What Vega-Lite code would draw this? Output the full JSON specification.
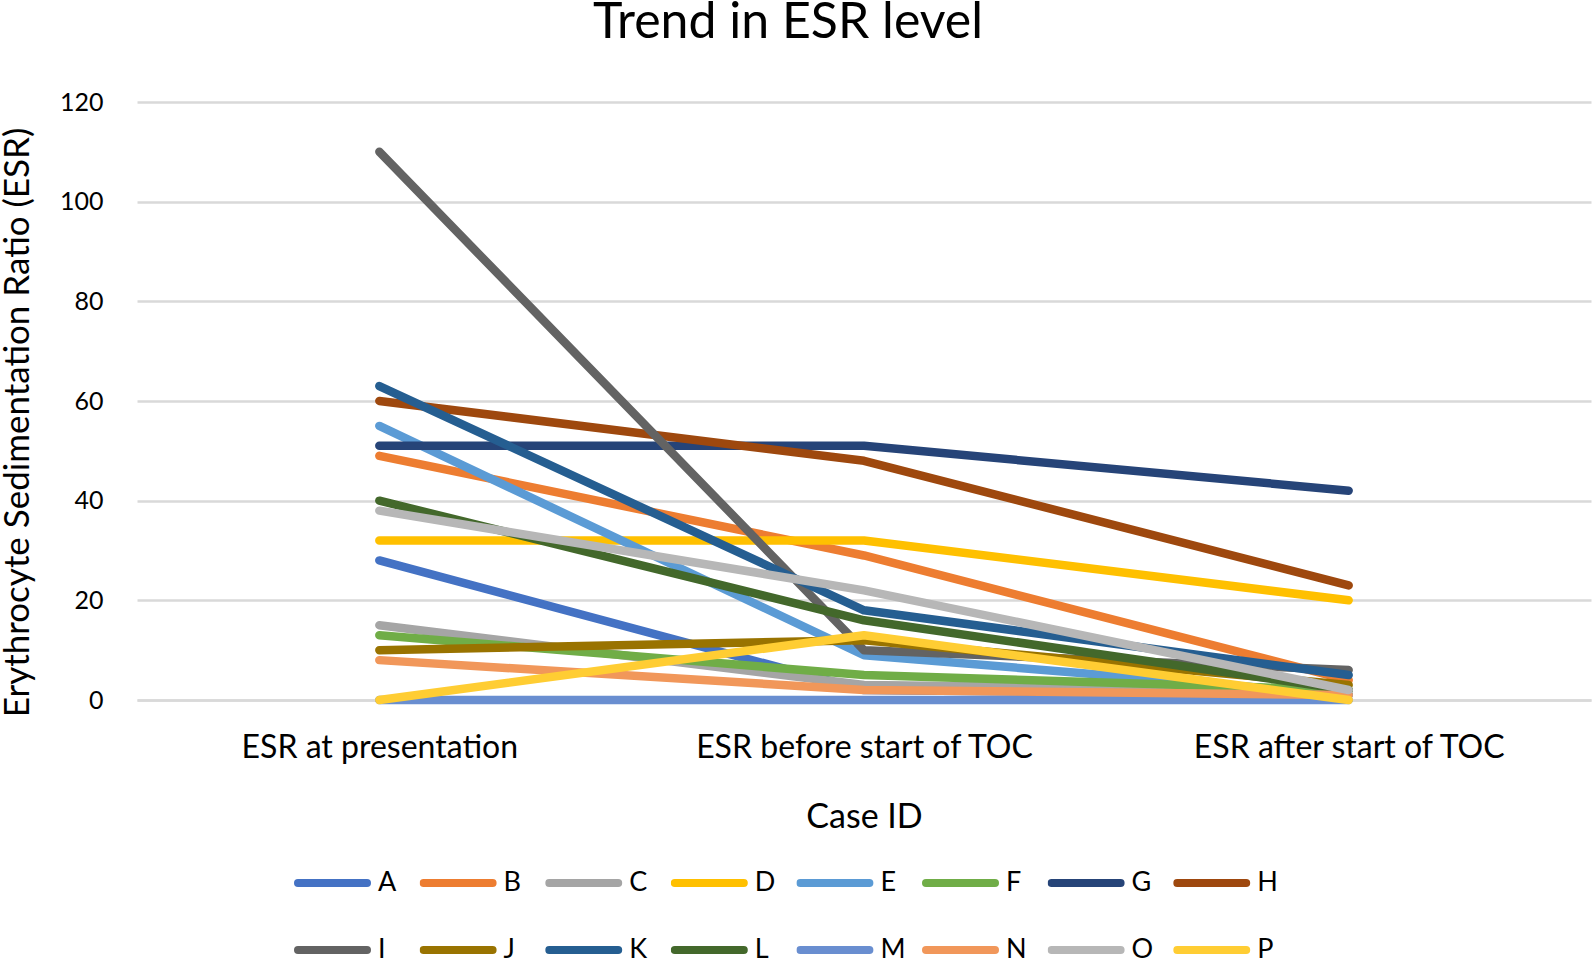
{
  "$schema": "https://vega.github.io/schema/vega-lite/v6.json",
  "autosize": {"type": "none"},
  "padding": {"left": 137, "top": 102, "right": 3, "bottom": 259},
  "width": 1454,
  "height": 598,
  "background": "white",
  "title": {
    "text": "Trend in ESR level",
    "font": "Lato",
    "fontSize": 50,
    "fontWeight": "normal",
    "color": "#000000",
    "anchor": "middle",
    "frame": "group",
    "dx": -76,
    "offset": 42
  },
  "config": {
    "view": {"stroke": null},
    "font": "Lato"
  },
  "data": {
    "values": [
      {"case": "A", "stage": "ESR at presentation", "esr": 28},
      {"case": "A", "stage": "ESR before start of TOC", "esr": 2},
      {"case": "A", "stage": "ESR after start of TOC", "esr": 1},
      {"case": "B", "stage": "ESR at presentation", "esr": 49},
      {"case": "B", "stage": "ESR before start of TOC", "esr": 29},
      {"case": "B", "stage": "ESR after start of TOC", "esr": 4},
      {"case": "C", "stage": "ESR at presentation", "esr": 15},
      {"case": "C", "stage": "ESR before start of TOC", "esr": 3},
      {"case": "C", "stage": "ESR after start of TOC", "esr": 2},
      {"case": "D", "stage": "ESR at presentation", "esr": 32},
      {"case": "D", "stage": "ESR before start of TOC", "esr": 32},
      {"case": "D", "stage": "ESR after start of TOC", "esr": 20},
      {"case": "E", "stage": "ESR at presentation", "esr": 55},
      {"case": "E", "stage": "ESR before start of TOC", "esr": 9},
      {"case": "E", "stage": "ESR after start of TOC", "esr": 1},
      {"case": "F", "stage": "ESR at presentation", "esr": 13},
      {"case": "F", "stage": "ESR before start of TOC", "esr": 5},
      {"case": "F", "stage": "ESR after start of TOC", "esr": 2},
      {"case": "G", "stage": "ESR at presentation", "esr": 51},
      {"case": "G", "stage": "ESR before start of TOC", "esr": 51},
      {"case": "G", "stage": "ESR after start of TOC", "esr": 42},
      {"case": "H", "stage": "ESR at presentation", "esr": 60},
      {"case": "H", "stage": "ESR before start of TOC", "esr": 48},
      {"case": "H", "stage": "ESR after start of TOC", "esr": 23},
      {"case": "I", "stage": "ESR at presentation", "esr": 110},
      {"case": "I", "stage": "ESR before start of TOC", "esr": 10},
      {"case": "I", "stage": "ESR after start of TOC", "esr": 6},
      {"case": "J", "stage": "ESR at presentation", "esr": 10},
      {"case": "J", "stage": "ESR before start of TOC", "esr": 12},
      {"case": "J", "stage": "ESR after start of TOC", "esr": 3},
      {"case": "K", "stage": "ESR at presentation", "esr": 63},
      {"case": "K", "stage": "ESR before start of TOC", "esr": 18},
      {"case": "K", "stage": "ESR after start of TOC", "esr": 5},
      {"case": "L", "stage": "ESR at presentation", "esr": 40},
      {"case": "L", "stage": "ESR before start of TOC", "esr": 16},
      {"case": "L", "stage": "ESR after start of TOC", "esr": 2},
      {"case": "M", "stage": "ESR at presentation", "esr": 0},
      {"case": "M", "stage": "ESR before start of TOC", "esr": 0},
      {"case": "M", "stage": "ESR after start of TOC", "esr": 0},
      {"case": "N", "stage": "ESR at presentation", "esr": 8},
      {"case": "N", "stage": "ESR before start of TOC", "esr": 2},
      {"case": "N", "stage": "ESR after start of TOC", "esr": 1},
      {"case": "O", "stage": "ESR at presentation", "esr": 38},
      {"case": "O", "stage": "ESR before start of TOC", "esr": 22},
      {"case": "O", "stage": "ESR after start of TOC", "esr": 2},
      {"case": "P", "stage": "ESR at presentation", "esr": 0},
      {"case": "P", "stage": "ESR before start of TOC", "esr": 13},
      {"case": "P", "stage": "ESR after start of TOC", "esr": 0}
    ]
  },
  "mark": {"type": "line", "strokeWidth": 8.5, "strokeCap": "round", "strokeJoin": "round"},
  "encoding": {
    "x": {
      "field": "stage",
      "type": "ordinal",
      "sort": ["ESR at presentation", "ESR before start of TOC", "ESR after start of TOC"],
      "scale": {"type": "point", "padding": 0.5},
      "axis": {
        "title": "Case ID",
        "titleFont": "Lato",
        "titleFontSize": 34,
        "titleFontWeight": "normal",
        "titleColor": "#000000",
        "titlePadding": 37,
        "labelFont": "Lato",
        "labelFontSize": 32,
        "labelLimit": 0,
        "labelColor": "#000000",
        "labelPadding": 32,
        "labelAngle": 0,
        "ticks": false,
        "domain": true,
        "domainColor": "#d9d9d9",
        "domainWidth": 2.5,
        "grid": false
      }
    },
    "y": {
      "field": "esr",
      "type": "quantitative",
      "scale": {"domain": [0, 120], "nice": false},
      "axis": {
        "title": "Erythrocyte Sedimentation Ratio (ESR)",
        "titleFont": "Lato",
        "titleFontSize": 35,
        "titleFontWeight": "normal",
        "titleColor": "#000000",
        "titleX": -120,
        "titleY": 320,
        "titleBaseline": "middle",
        "values": [0, 20, 40, 60, 80, 100, 120],
        "labelFont": "Lato",
        "labelFontSize": 25,
        "labelColor": "#000000",
        "labelPadding": 34,
        "ticks": false,
        "domain": false,
        "grid": true,
        "gridColor": "#d9d9d9",
        "gridWidth": 2.5
      }
    },
    "color": {
      "field": "case",
      "type": "nominal",
      "scale": {
        "domain": ["A","B","C","D","E","F","G","H","I","J","K","L","M","N","O","P"],
        "range": ["#4472C4","#ED7D31","#A5A5A5","#FFC000","#5B9BD5","#70AD47","#264478","#9E480E","#636363","#997300","#255E91","#43682B","#698ED0","#F1975A","#B7B7B7","#FFCD33"]
      },
      "legend": {
        "title": null,
        "orient": "none",
        "legendX": 157,
        "legendY": 766,
        "direction": "horizontal",
        "columns": 8,
        "symbolType": "stroke",
        "symbolSize": 4761,
        "symbolStrokeWidth": 8,
        "clipHeight": 30,
        "rowPadding": 37,
        "columnPadding": 15.6,
        "labelFont": "Lato",
        "labelFontSize": 27,
        "labelColor": "#000000",
        "labelOffset": 7,
        "gridAlign": "all",
        "encode": {"symbols": {"update": {"strokeCap": {"value": "round"}}}}
      }
    }
  }
}
